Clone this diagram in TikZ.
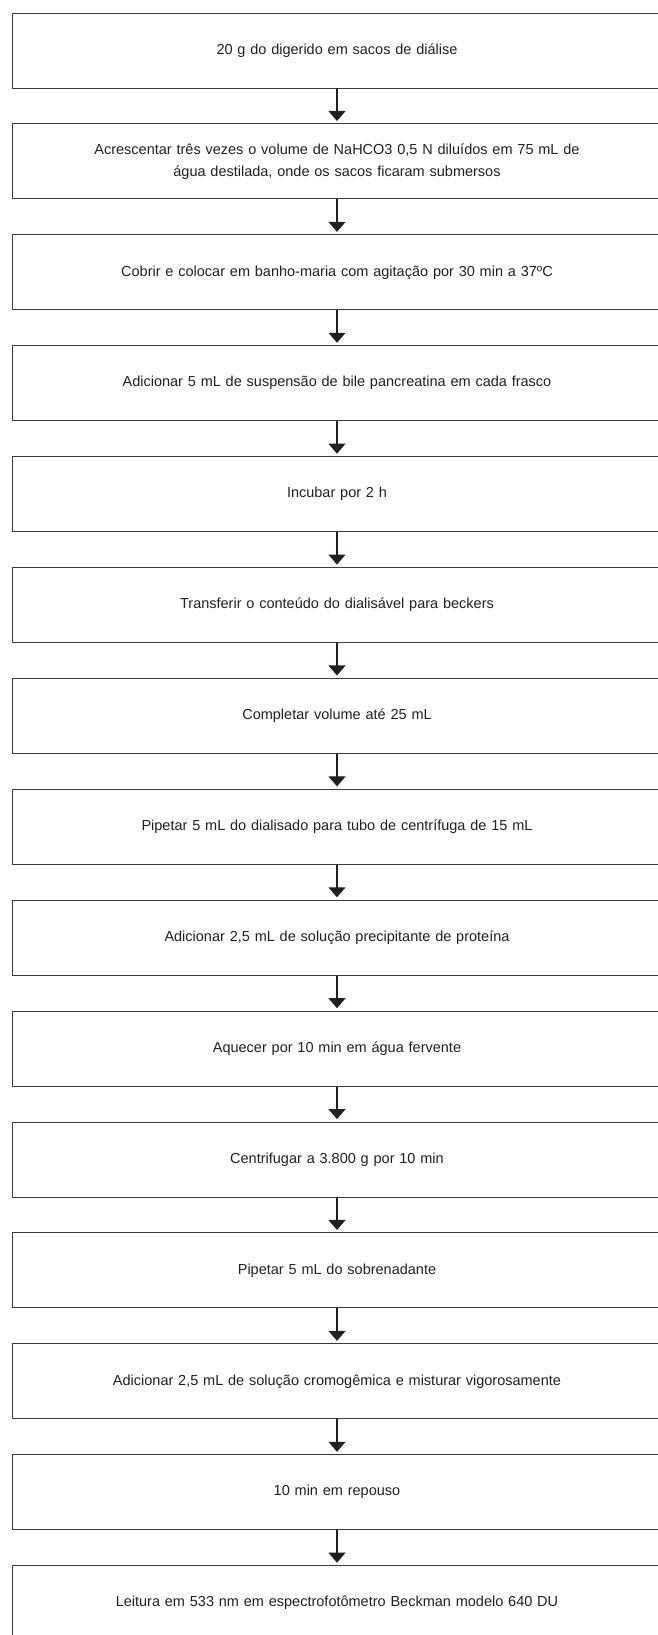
\documentclass[tikz,border=0pt]{standalone}
\usepackage{fontspec}
\setmainfont{Liberation Sans}
\usetikzlibrary{arrows.meta, positioning}

\definecolor{linegray}{HTML}{3C3C3C}
\definecolor{textgray}{HTML}{231F20}

\begin{document}
\begin{tikzpicture}[
      x=1pt, y=1pt,
      node distance=35pt,
      etapa/.style={
          rectangle,
          draw=linegray,
          line width=0.9pt,
          align=center,
          text=textgray,
          text width=620pt,
          minimum width=650pt,
          minimum height=75pt,
          inner sep=0pt,
          font=\fontsize{14.5}{22}\selectfont
        },
      seta/.style={
          -{Triangle[width=17pt,length=10pt]},
          line width=1.1pt,
          draw=textgray,
          shorten >=2.5pt
        }
    ]
    \useasboundingbox (0,0) rectangle (657,-1635);

    % Etapas
    \node[etapa] (e1) at (337,-50.5) {20 g do digerido em sacos de diálise};
    \node[etapa, below=of e1] (e2) {Acrescentar três vezes o volume de NaHCO3 0,5 N diluídos em 75 mL de\\água destilada, onde os sacos ficaram submersos};
    \node[etapa, below=of e2] (e3) {Cobrir e colocar em banho-maria com agitação por 30 min a 37ºC};
    \node[etapa, below=of e3] (e4) {Adicionar 5 mL de suspensão de bile pancreatina em cada frasco};
    \node[etapa, below=of e4] (e5) {Incubar por 2 h};
    \node[etapa, below=of e5] (e6) {Transferir o conteúdo do dialisável para beckers};
    \node[etapa, below=of e6] (e7) {Completar volume até 25 mL};
    \node[etapa, below=of e7] (e8) {Pipetar 5 mL do dialisado para tubo de centrífuga de 15 mL};
    \node[etapa, below=of e8] (e9) {Adicionar 2,5 mL de solução precipitante de proteína};
    \node[etapa, below=of e9] (e10) {Aquecer por 10 min em água fervente};
    \node[etapa, below=of e10] (e11) {Centrifugar a 3.800 g por 10 min};
    \node[etapa, below=of e11] (e12) {Pipetar 5 mL do sobrenadante};
    \node[etapa, below=of e12] (e13) {Adicionar 2,5 mL de solução cromogêmica e misturar vigorosamente};
    \node[etapa, below=of e13] (e14) {10 min em repouso};
    \node[etapa, below=of e14] (e15) {Leitura em 533 nm em espectrofotômetro Beckman modelo 640 DU};

    % Setas
    \foreach \a/\b in {e1/e2, e2/e3, e3/e4, e4/e5, e5/e6, e6/e7, e7/e8,
                       e8/e9, e9/e10, e10/e11, e11/e12, e12/e13, e13/e14, e14/e15}
      \draw[seta] (\a) -- (\b);

  \end{tikzpicture}
\end{document}
